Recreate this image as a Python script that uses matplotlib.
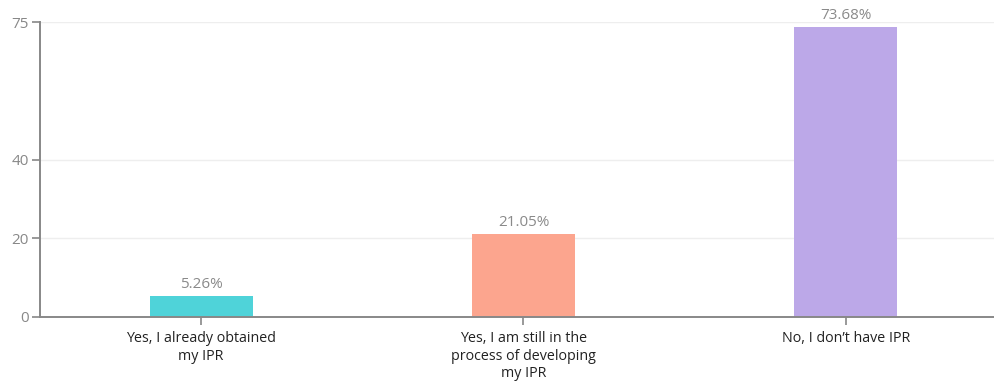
import matplotlib.pyplot as plt

categories = ['Yes, I already obtained\nmy IPR',
              'Yes, I am still in the\nprocess of developing\nmy IPR',
              'No, I don\u2019t have IPR']
percent = [5.26, 21.05, 73.68]
colors = ['#4fd3d9', '#fca58e', '#bca8e8']
yticks = [0, 20, 40, 75]

plt.rcParams['font.family'] = ['Open Sans', 'DejaVu Sans']

fig = plt.figure(figsize=(9.94, 3.88), dpi=100)
ax = fig.add_axes([40/994, 71/388, 1 - 40/994, 295/388])

x = range(len(categories))
bars = ax.bar(x, percent, width=0.32, color=colors, zorder=2)

for b, v in zip(bars, percent):
    ax.text(b.get_x() + b.get_width()/2, v + 1.0, f'{v:.2f}%',
            ha='center', va='bottom', fontsize=11, color='#8a8a8a')

ax.set_xlim(-0.5, 2.46)
ax.set_ylim(0, 75)
ax.set_yticks(yticks)
ax.set_xticks(list(x))
ax.set_xticklabels(categories, fontsize=10.3, color='#222222', linespacing=1.25)
ax.tick_params(axis='y', labelsize=11, labelcolor='#888888', color='#888888',
               length=6, width=1.2, pad=2)
ax.tick_params(axis='x', color='#888888', length=6, width=1.2, pad=4)
ax.grid(axis='y', color='#eeeeee', linewidth=1, zorder=0)

for s in ['top', 'right']:
    ax.spines[s].set_visible(False)
for s in ['left', 'bottom']:
    ax.spines[s].set_color('#888888')
    ax.spines[s].set_linewidth(1.4)

fig.savefig('out.png', dpi=100)
